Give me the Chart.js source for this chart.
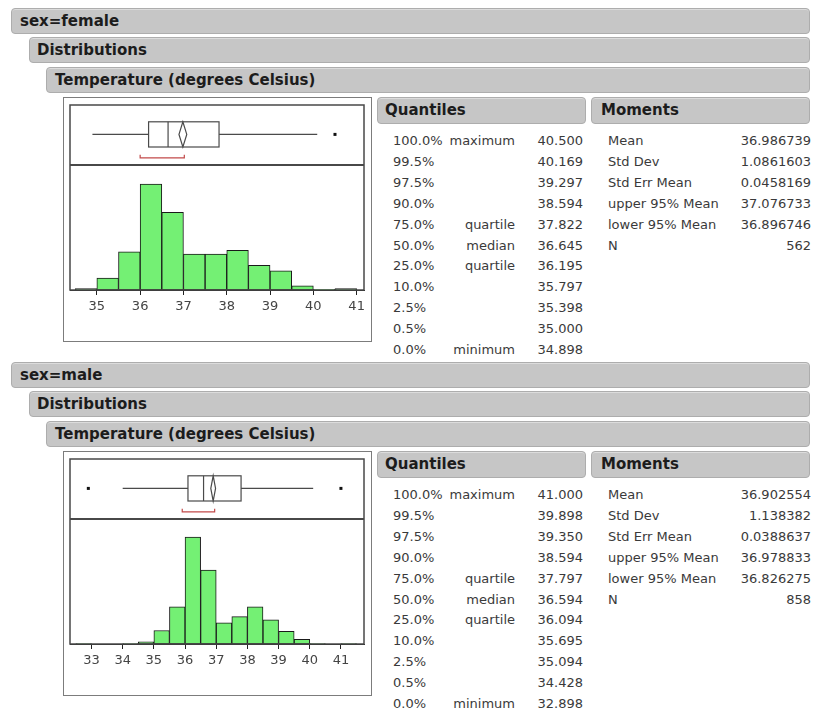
<!DOCTYPE html>
<html>
<head>
<meta charset="utf-8">
<script src="https://cdn.jsdelivr.net/npm/chart.js@4.4.1/dist/chart.umd.min.js"></script>
<style>
    body { margin: 0; width: 814px; height: 712px; position: relative; overflow: hidden; background: #fff; font-family: "DejaVu Sans", sans-serif; }
    .bar { position: absolute; height: 26px; right: 4px; box-sizing: border-box; background: #c6c6c6; border: 1px solid #adadad; border-radius: 4px; box-shadow: inset 0 1px 0 #dcdcdc; font-weight: bold; font-size: 15px; color: #1c1c1c; line-height: 24px; padding-left: 8px; white-space: nowrap; }
    .frame { position: absolute; left: 63px; width: 309px; height: 245px; box-sizing: border-box; border: 1px solid #7c7c7c; background: #fff; }
    .frame canvas { position: absolute; left: 0; top: 0; }
    .cell { position: absolute; font-size: 13px; color: #3a3a3a; line-height: 21px; height: 21px; white-space: nowrap; }
    .r { text-align: right; }
</style>
</head>
<body>
<div id="page"></div>
<script>
// histogram bins (lower edges, 0.5 wide) and counts
const binWidth = 0.5;
const femaleBins = [34.5, 35, 35.5, 36, 36.5, 37, 37.5, 38, 38.5, 39, 39.5, 40, 40.5];
const femaleCounts = [2, 17, 54, 150, 110, 51, 51, 56, 35, 27, 6, 1, 2];
const maleBins = [32.5, 33, 33.5, 34, 34.5, 35, 35.5, 36, 36.5, 37, 37.5, 38, 38.5, 39, 39.5, 40, 40.5, 41];
const maleCounts = [1, 0, 0, 1, 5, 32, 88, 253, 175, 50, 65, 88, 57, 30, 11, 1, 0, 1];

// quantiles table
const quantileLevels = ['100.0%', '99.5%', '97.5%', '90.0%', '75.0%', '50.0%', '25.0%', '10.0%', '2.5%', '0.5%', '0.0%'];
const quantileNames = ['maximum', '', '', '', 'quartile', 'median', 'quartile', '', '', '', 'minimum'];
const femaleQuantiles = [40.500, 40.169, 39.297, 38.594, 37.822, 36.645, 36.195, 35.797, 35.398, 35.000, 34.898];
const maleQuantiles = [41.000, 39.898, 39.350, 38.594, 37.797, 36.594, 36.094, 35.695, 35.094, 34.428, 32.898];

// moments table
const momentNames = ['Mean', 'Std Dev', 'Std Err Mean', 'upper 95% Mean', 'lower 95% Mean', 'N'];
const femaleMoments = [36.986739, 1.0861603, 0.0458169, 37.076733, 36.896746, 562];
const maleMoments = [36.902554, 1.138382, 0.0388637, 36.978833, 36.826275, 858];

// box plot pieces not in the tables
const femaleWhiskers = [34.898, 40.09];
const maleWhiskers = [34.0, 40.11];
const femaleOutliers = [40.5];
const maleOutliers = [32.898, 41.0];
const femaleShortestHalf = [36.0, 37.02];
const maleShortestHalf = [35.91, 36.95];

// axis ranges
const femaleRange = [34.38, 41.17];
const maleRange = [32.31, 41.74];
const femaleYMax = 177;
const maleYMax = 296;

const page = document.getElementById('page');

function addDiv(cls, style, text) {
    const d = document.createElement('div');
    d.className = cls;
    Object.assign(d.style, style);
    if (text !== undefined) d.textContent = text;
    page.appendChild(d);
    return d;
}

// draws the outlier box plot in the top band, through the chart's own scales
const boxPlotPlugin = {
    id: 'boxPlot',
    afterDatasetsDraw(chart, args, opts) {
        const { ctx, chartArea: a } = chart;
        const x = chart.scales.x, yb = chart.scales.yb;
        const px = v => x.getPixelForValue(v);
        const py = v => yb.getPixelForValue(v);
        const seg = (x1, y1, x2, y2) => { ctx.beginPath(); ctx.moveTo(x1, y1); ctx.lineTo(x2, y2); ctx.stroke(); };

        ctx.save();
        // inner frame + divider between box plot and histogram
        ctx.strokeStyle = '#484848';
        ctx.lineWidth = 1.5;
        ctx.strokeRect(a.left, a.top, a.width, a.height);
        ctx.lineWidth = 2;
        seg(a.left, yb.bottom, a.right, yb.bottom);

        const q = opts.quantiles;
        const q1 = q[6], med = q[5], q3 = q[4];
        const yc = py(0.51), yTop = py(0.72), yBot = py(0.3);

        ctx.strokeStyle = '#4a4a4a';
        ctx.lineWidth = 1.2;
        seg(px(opts.whiskers[0]), yc, px(q1), yc);
        seg(px(q3), yc, px(opts.whiskers[1]), yc);
        ctx.strokeRect(px(q1), yTop, px(q3) - px(q1), yBot - yTop);
        seg(px(med), yTop, px(med), yBot);

        // means diamond: 95% CI of mean
        const m = opts.moments;
        ctx.beginPath();
        ctx.moveTo(px(m[4]), yc);
        ctx.lineTo(px(m[0]), yTop);
        ctx.lineTo(px(m[3]), yc);
        ctx.lineTo(px(m[0]), yBot);
        ctx.closePath();
        ctx.stroke();

        // outliers
        ctx.fillStyle = '#111';
        opts.outliers.forEach(v => ctx.fillRect(px(v) - 1.5, yc - 1.5, 3, 3));

        // shortest half bracket
        ctx.strokeStyle = '#c24a4a';
        ctx.lineWidth = 1.2;
        const s = opts.shortest, yr = py(0.12), yt = py(0.17);
        ctx.beginPath();
        ctx.moveTo(px(s[0]), yt);
        ctx.lineTo(px(s[0]), yr);
        ctx.lineTo(px(s[1]), yr);
        ctx.lineTo(px(s[1]), yt);
        ctx.stroke();
        ctx.restore();
    }
};

window.DistributionPanel = function (offset, label, bins, counts, range, yMax, quantiles, moments, whiskers, outliers, shortest) {
    addDiv('bar', { left: '11px', top: (8 + offset) + 'px' }, label);
    addDiv('bar', { left: '29px', top: (37 + offset) + 'px', paddingLeft: '7px' }, 'Distributions');
    addDiv('bar', { left: '46px', top: (67 + offset) + 'px' }, 'Temperature (degrees Celsius)');
    addDiv('bar', { left: '377px', top: (97 + offset) + 'px', right: 'auto', width: '209px', height: '27px', paddingLeft: '7px' }, 'Quantiles');
    addDiv('bar', { left: '591px', top: (97 + offset) + 'px', height: '27px', paddingLeft: '9px' }, 'Moments');

    // quantiles + moments rows
    quantileLevels.forEach((lv, i) => {
        const top = (130 + offset + i * 20.9) + 'px';
        addDiv('cell', { left: '393px', top: top }, lv);
        addDiv('cell r', { left: '430px', width: '85px', top: top }, quantileNames[i]);
        addDiv('cell r', { left: '520px', width: '63px', top: top }, quantiles[i].toFixed(3));
    });
    momentNames.forEach((nm, i) => {
        const top = (130 + offset + i * 20.9) + 'px';
        addDiv('cell', { left: '608px', top: top }, nm);
        addDiv('cell r', { left: '720px', width: '91px', top: top }, String(moments[i]));
    });

    const frame = addDiv('frame', { top: (97 + offset) + 'px' });
    const canvas = document.createElement('canvas');
    canvas.width = 307;
    canvas.height = 243;
    frame.appendChild(canvas);

    const data = {
        datasets: [{
            data: bins.map((b, i) => ({ x: b + binWidth / 2, y: counts[i] })),
            backgroundColor: '#74f074',
            borderColor: '#1a1a1a',
            borderWidth: 1,
            borderSkipped: false,
            barPercentage: 1,
            categoryPercentage: 1,
            yAxisID: 'y'
        }]
    };

    new Chart(canvas.getContext('2d'), {
        type: 'bar',
        data: data,
        options: {
            responsive: false,
            animation: false,
            events: [],
            layout: { padding: { left: 6, right: 7, top: 7, bottom: 0 } },
            plugins: {
                legend: { display: false },
                tooltip: { enabled: false },
                boxPlot: { quantiles: quantiles, moments: moments, whiskers: whiskers, outliers: outliers, shortest: shortest }
            },
            scales: {
                x: {
                    type: 'linear',
                    min: range[0],
                    max: range[1],
                    offset: false,
                    ticks: {
                        stepSize: 1,
                        includeBounds: false,
                        autoSkip: false,
                        maxRotation: 0,
                        padding: 4,
                        color: '#444',
                        font: { family: 'DejaVu Sans', size: 13 }
                    },
                    grid: { display: true, offset: false, drawOnChartArea: false, drawTicks: true, tickLength: 5, color: '#222' },
                    border: { display: true, color: '#222', width: 1 },
                    afterFit: function (scale) { scale.height = 51; }
                },
                y: { display: false, min: 0, max: yMax, stack: 'plot', stackWeight: 125, weight: 0 },
                yb: { type: 'linear', display: false, min: 0, max: 1, stack: 'plot', stackWeight: 60, weight: 1 }
            }
        },
        plugins: [boxPlotPlugin]
    });
};

DistributionPanel(0, 'sex=female', femaleBins, femaleCounts, femaleRange, femaleYMax, femaleQuantiles, femaleMoments, femaleWhiskers, femaleOutliers, femaleShortestHalf);
DistributionPanel(354, 'sex=male', maleBins, maleCounts, maleRange, maleYMax, maleQuantiles, maleMoments, maleWhiskers, maleOutliers, maleShortestHalf);
</script>
</body>
</html>
